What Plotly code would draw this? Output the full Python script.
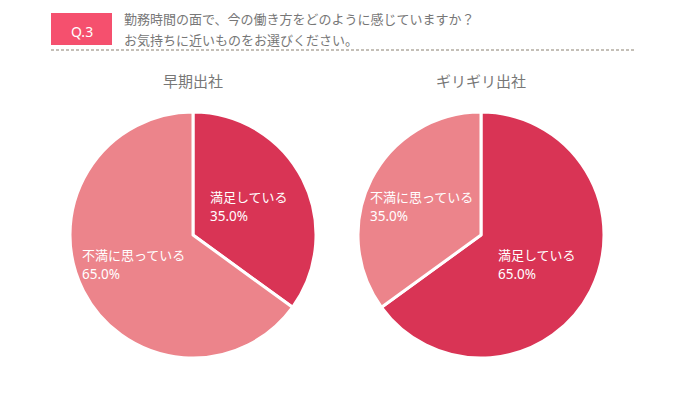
import math
import plotly.graph_objects as go

W, H = 680, 418
question_no = "Q.3"
question_lines = ["勤務時間の面で、今の働き方をどのように感じていますか？",
                  "お気持ちに近いものをお選びください。"]
chart_titles = ["早期出社", "ギリギリ出社"]
labels_early = ["満足している", "不満に思っている"]
values_early = [35.0, 65.0]
labels_late = ["満足している", "不満に思っている"]
values_late = [65.0, 35.0]
colors = {"満足している": "#D93455", "不満に思っている": "#EC848B"}

FONT = "Noto Sans CJK JP"
NUMFONT = "Noto Sans"
fig = go.Figure()

pies = [
    (labels_early, values_early, 193, 235),
    (labels_late, values_late, 481, 235),
]
R = 123
FS = 13.5
annotations = []
for i, (labs, vals, cx, cy) in enumerate(pies):
    dom_x = [(cx - R) / W, (cx + R) / W]
    dom_y = [1 - (cy + R) / H, 1 - (cy - R) / H]
    fig.add_trace(go.Pie(
        labels=labs, values=vals, sort=False, direction="clockwise", rotation=0,
        marker=dict(colors=[colors[l] for l in labs], line=dict(color="white", width=3)),
        textinfo="none", hoverinfo="label+percent", showlegend=False,
        domain=dict(x=dom_x, y=dom_y),
    ))
    total = sum(vals)
    start = 0.0
    for lab, v in zip(labs, vals):
        mid = (start + v / 2) / total * 2 * math.pi
        start += v
        r = 0.52 * R
        tx = cx + r * math.sin(mid)
        ty = cy - r * math.cos(mid)
        left = tx - len(lab) * 13.7 / 2
        annotations.append(dict(
            x=left / W, y=1 - (ty - 9.8) / H, xref="paper", yref="paper",
            text=lab, showarrow=False, xanchor="left", yanchor="middle",
            borderpad=0, font=dict(family=FONT, size=13, color="white"),
        ))
        annotations.append(dict(
            x=left / W, y=1 - (ty + 9.8) / H, xref="paper", yref="paper",
            text=f"{v / total * 100:.1f}%", showarrow=False, xanchor="left", yanchor="middle",
            borderpad=0, font=dict(family=NUMFONT, size=FS, color="white"),
        ))
    annotations.append(dict(
        x=cx / W, y=1 - 80 / H, xref="paper", yref="paper",
        text=chart_titles[i], showarrow=False, xanchor="center", yanchor="middle",
        font=dict(family=FONT, size=15, color="#777777"),
    ))

# header
annotations.append(dict(
    x=82 / W, y=1 - 31 / H, xref="paper", yref="paper", text=question_no,
    showarrow=False, xanchor="center", yanchor="middle",
    font=dict(family=NUMFONT, size=14, color="white"),
))
annotations.append(dict(
    x=123 / W, y=1 - 8 / H, xref="paper", yref="paper", text=question_lines[0],
    showarrow=False, xanchor="left", yanchor="top", borderpad=0,
    font=dict(family=FONT, size=13, color="#777777"),
))
annotations.append(dict(
    x=123 / W, y=1 - 50 / H, xref="paper", yref="paper", text=question_lines[1],
    showarrow=False, xanchor="left", yanchor="bottom", borderpad=0,
    font=dict(family=FONT, size=13, color="#777777"),
))

shapes = [
    dict(type="rect", xref="paper", yref="paper",
         x0=51 / W, x1=112 / W, y0=1 - 45 / H, y1=1 - 13 / H,
         fillcolor="#F5506E", line=dict(width=0)),
    dict(type="line", xref="paper", yref="paper",
         x0=51 / W, x1=634 / W, y0=1 - 50 / H, y1=1 - 50 / H,
         line=dict(color="#8a8070", width=1, dash="3px,2px")),
]

fig.update_layout(
    width=W, height=H, margin=dict(l=0, r=0, t=0, b=0),
    paper_bgcolor="white", plot_bgcolor="white",
    annotations=annotations, shapes=shapes,
)
fig.write_html("out.html")
